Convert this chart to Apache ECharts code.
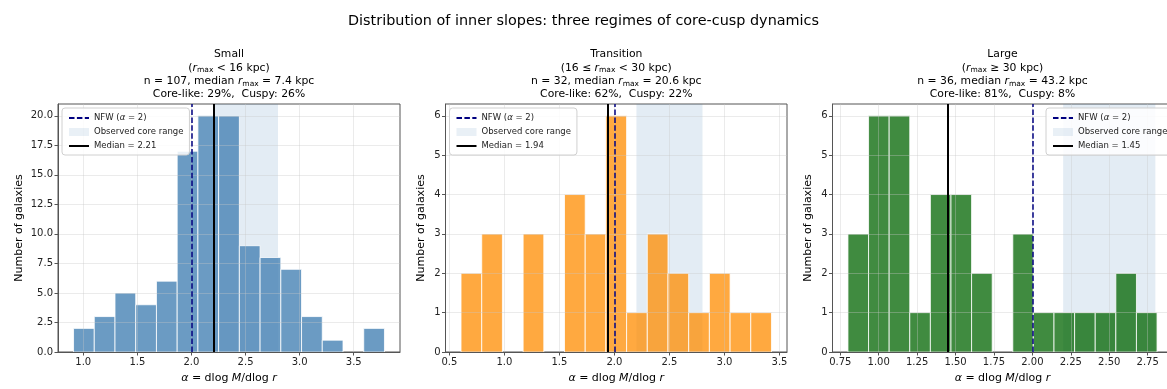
<!DOCTYPE html>
<html>
<head>
<meta charset="utf-8"/>
<title>Inner slopes</title>
<script src="https://cdn.jsdelivr.net/npm/echarts@6/dist/echarts.min.js"></script>
<style>
  html, body { margin: 0; padding: 0; background: #fff; overflow: hidden; }
  #chart { width: 1185px; height: 389px; }
</style>
</head>
<body>
<div id="chart"></div>
<script type="text/javascript">
// histogram counts per regime (15 bins each)
var smallCounts = [2, 3, 5, 4, 6, 17, 20, 20, 9, 8, 7, 3, 1, 0, 2];
var transCounts = [2, 3, 0, 3, 0, 4, 3, 6, 1, 3, 2, 1, 2, 1, 1];
var largeCounts = [3, 6, 6, 1, 4, 4, 2, 0, 3, 1, 1, 1, 1, 2, 1];
// first and last bin edge
var smallEdges = [0.910, 3.784];
var transEdges = [0.606, 3.427];
var largeEdges = [0.800, 2.811];
// summary values
var groupNames = ['Small', 'Transition', 'Large'];
var groupN = [107, 32, 36];
var medianR = [7.4, 20.6, 43.2];
var coreFrac = [29, 62, 81];
var cuspFrac = [26, 22, 8];
var medianAlpha = [2.21, 1.94, 1.45];
var nfwAlpha = 2.0;
var coreRange = [2.2, 2.8];
// tick values
var smallXTicks = [1.0, 1.5, 2.0, 2.5, 3.0, 3.5];
var transXTicks = [0.5, 1.0, 1.5, 2.0, 2.5, 3.0, 3.5];
var largeXTicks = [0.75, 1.00, 1.25, 1.50, 1.75, 2.00, 2.25, 2.50, 2.75];
var smallYTicks = [0, 2.5, 5, 7.5, 10, 12.5, 15, 17.5, 20];
var countYTicks = [0, 1, 2, 3, 4, 5, 6];

var font = 'DejaVu Sans';
var nfwName = 'NFW (α = 2)';
var coreName = 'Observed core range';

function histData(edges, counts) {
  var w = (edges[1] - edges[0]) / counts.length;
  var out = [];
  for (var i = 0; i < counts.length; i++) {
    if (counts[i] > 0) out.push([edges[0] + i * w, edges[0] + (i + 1) * w, counts[i]]);
  }
  return out;
}
function pad(edges) {
  var m = (edges[1] - edges[0]) * 0.05;
  return [edges[0] - m, edges[1] + m];
}
function renderHist(params, api) {
  var a = api.coord([api.value(0), api.value(2)]);
  var b = api.coord([api.value(1), 0]);
  return {
    type: 'rect',
    shape: {x: a[0], y: a[1], width: b[0] - a[0], height: b[1] - a[1]},
    style: {fill: api.visual('color'), stroke: '#fff', lineWidth: 0.8}
  };
}

var grids = [
  {left: 58, top: 104, width: 342, height: 248},
  {left: 445.5, top: 104, width: 341.5, height: 248},
  {left: 832.5, top: 104, width: 340, height: 248}
];
var edgesList = [smallEdges, transEdges, largeEdges];
var countsList = [smallCounts, transCounts, largeCounts];
var xTicksList = [smallXTicks, transXTicks, largeXTicks];
var xDec = [1, 1, 2];
var yTicksList = [smallYTicks, countYTicks, countYTicks];
var yMax = [21, 6.3, 6.3];
var yDec = [1, 0, 0];
var yNameGap = [33, 19, 19];
var colors = ['rgba(70,130,180,0.8)', 'rgba(255,140,0,0.75)', 'rgba(0,100,0,0.75)'];
var legendLeft = [62, 449.5, 1046];

var titles = [{
  text: 'Distribution of inner slopes: three regimes of core-cusp dynamics',
  left: 578.5, top: 9, textAlign: 'center',
  textStyle: {fontFamily: font, fontSize: 14.4, fontWeight: 'normal', color: '#000'}
}];
var xAxes = [], yAxes = [], series = [], legends = [];
var rangeLabel = ['{i|r}{s|max} < 16 kpc', '16 ≤ {i|r}{s|max} < 30 kpc', '{i|r}{s|max} ≥ 30 kpc'];

for (var k = 0; k < 3; k++) {
  var g = grids[k];
  var ext = pad(edgesList[k]);
  titles.push({
    text: groupNames[k] + '\n(' + rangeLabel[k] + ')\n' +
      'n = ' + groupN[k] + ', median {i|r}{s|max} = ' + medianR[k].toFixed(1) + ' kpc\n' +
      'Core-like: ' + coreFrac[k] + '%,  Cuspy: ' + cuspFrac[k] + '%',
    left: g.left + g.width / 2 - 5, top: 43, textAlign: 'center',
    textStyle: {
      fontFamily: font, fontSize: 10.8, fontWeight: 'normal', color: '#000', lineHeight: 13.2,
      rich: {
        i: {fontFamily: font, fontSize: 10.8, fontStyle: 'italic', lineHeight: 13.2},
        s: {fontFamily: font, fontSize: 7.5, lineHeight: 13.2, verticalAlign: 'bottom', padding: [3, 0, 0, 0]}
      }
    }
  });
  (function (dec) {
    xAxes.push({
      type: 'value', gridIndex: k, min: ext[0], max: ext[1], z: 5,
      name: '{i|α} = dlog {i|M}/dlog {i|r}', nameLocation: 'middle', nameGap: 21,
      nameTextStyle: {fontFamily: font, fontSize: 11, color: '#000',
        rich: {i: {fontFamily: font, fontSize: 11, fontStyle: 'italic'}}},
      axisLine: {show: true, onZero: false, lineStyle: {color: '#555', width: 1}},
      axisTick: {show: true, length: 3.5, customValues: xTicksList[k], lineStyle: {color: '#555'}},
      axisLabel: {customValues: xTicksList[k], fontFamily: font, fontSize: 10, color: '#222', margin: 5,
        formatter: function (v) { return v.toFixed(dec); }},
      splitLine: {show: true, lineStyle: {color: 'rgba(200,200,200,0.45)', width: 0.8}}
    });
  })(xDec[k]);
  (function (dec) {
    yAxes.push({
      type: 'value', gridIndex: k, min: 0, max: yMax[k], z: 5,
      name: 'Number of galaxies', nameLocation: 'middle', nameGap: yNameGap[k],
      nameTextStyle: {fontFamily: font, fontSize: 11, color: '#000'},
      axisLine: {show: true, lineStyle: {color: '#555', width: 1}},
      axisTick: {show: true, length: 3.5, customValues: yTicksList[k], lineStyle: {color: '#555'}},
      axisLabel: {customValues: yTicksList[k], fontFamily: font, fontSize: 10, color: '#222', margin: 5,
        formatter: function (v) { return v.toFixed(dec); }},
      splitLine: {show: true, lineStyle: {color: 'rgba(200,200,200,0.45)', width: 0.8}}
    });
  })(yDec[k]);

  series.push({
    type: 'custom', name: groupNames[k], xAxisIndex: k, yAxisIndex: k, z: 2,
    renderItem: renderHist, encode: {x: [0, 1], y: 2},
    itemStyle: {color: colors[k]},
    data: histData(edgesList[k], countsList[k])
  });
  series.push({
    type: 'scatter', name: coreName, xAxisIndex: k, yAxisIndex: k, z: 3,
    symbol: 'rect', itemStyle: {color: 'rgba(70,130,180,0.15)'}, data: [],
    markArea: {silent: true, itemStyle: {color: 'rgba(70,130,180,0.15)'},
      data: [[{xAxis: coreRange[0]}, {xAxis: coreRange[1]}]]}
  });
  series.push({
    type: 'line', name: nfwName, xAxisIndex: k, yAxisIndex: k, z: 4,
    symbol: 'none', data: [],
    lineStyle: {color: '#000080', width: 1.5, type: [5.5, 2.4]},
    markLine: {silent: true, symbol: ['none', 'none'], label: {show: false},
      lineStyle: {color: '#000080', width: 1.5, type: [5.5, 2.4]},
      data: [{xAxis: nfwAlpha}]}
  });
  var medName = 'Median = ' + medianAlpha[k].toFixed(2);
  series.push({
    type: 'line', name: medName, xAxisIndex: k, yAxisIndex: k, z: 4,
    symbol: 'none', data: [],
    lineStyle: {color: '#000', width: 2},
    markLine: {silent: true, symbol: ['none', 'none'], label: {show: false},
      lineStyle: {color: '#000', width: 2, type: 'solid'},
      data: [{xAxis: medianAlpha[k]}]}
  });
  legends.push({
    orient: 'vertical', left: legendLeft[k], top: 108, z: 10,
    data: [
      {name: nfwName, itemStyle: {opacity: 0}},
      {name: coreName, icon: 'rect'},
      {name: medName, itemStyle: {opacity: 0}}
    ],
    itemWidth: 20, itemHeight: 8, itemGap: 4, padding: [5, 6, 4, 6],
    backgroundColor: 'rgba(255,255,255,0.85)', borderColor: '#d0d0d0', borderWidth: 1, borderRadius: 3,
    selectedMode: false,
    formatter: function (name) { return name.replace('α', '{i|α}'); },
    textStyle: {fontFamily: font, fontSize: 8.5, color: '#222', lineHeight: 10,
      rich: {i: {fontFamily: font, fontSize: 8.5, fontStyle: 'italic'}}}
  });
}

var myChart = echarts.init(document.getElementById('chart'), null, {renderer: 'canvas'});
myChart.setOption({
  animation: false,
  backgroundColor: '#fff',
  title: titles,
  legend: legends,
  grid: grids.map(function (g) {
    return {left: g.left, top: g.top, width: g.width, height: g.height,
      show: true, borderColor: '#555', borderWidth: 1, backgroundColor: 'transparent'};
  }),
  xAxis: xAxes,
  yAxis: yAxes,
  series: series
});
</script>
</body>
</html>
